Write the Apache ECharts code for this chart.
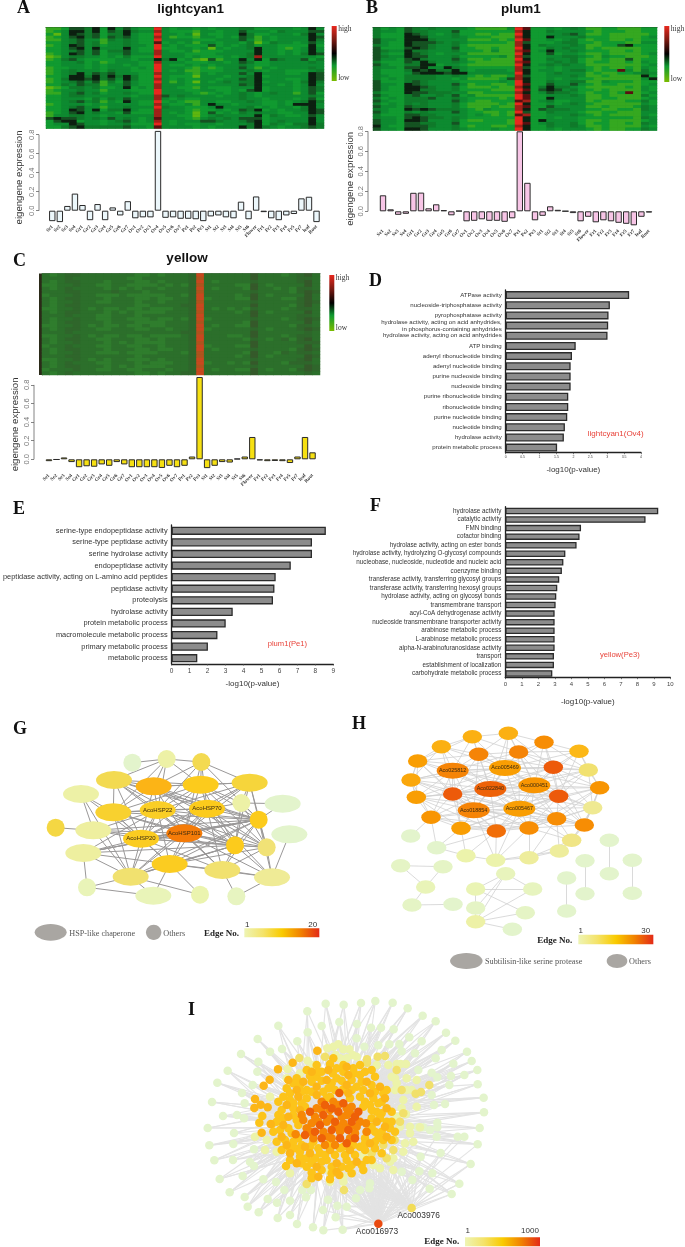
<!DOCTYPE html>
<html><head><meta charset="utf-8">
<script src="https://cdn.jsdelivr.net/npm/echarts@6/dist/echarts.min.js"></script>
<style>html,body{margin:0;padding:0;background:#fff}#c{width:685px;height:1247px}</style></head>
<body><div id="c"></div>
<script>
const categories=['Se1','Se2','Se3','Se4','Gr1','Gr2','Gr3','Gr4','Gr5','Gr6','Gr7','Ov1','Ov2','Ov3','Ov4','Ov5','Ov6','Ov7','Pe1','Pe2','Pe3','St1','St2','St3','St4','St5','St6','Flower','Fr1','Fr2','Fr3','Fr4','Fr5','Fr7','leaf','Root'];
const eigenA=[-.11,-.12,.05,.18,.06,-.10,.07,-.10,.035,-.05,.10,-.08,-.07,-.07,.84,-.075,-.07,-.085,-.085,-.09,-.11,-.06,-.05,-.07,-.08,.095,-.09,.15,-.015,-.08,-.10,-.05,-.035,.13,.147,-.12];
const eigenB=[.16,.02,-.035,-.025,.185,.187,.03,.07,.012,-.04,.005,-.10,-.095,-.08,-.095,-.095,-.105,-.07,.80,.285,-.09,-.045,.05,.015,.002,-.018,-.10,-.055,-.11,-.09,-.10,-.115,-.125,-.14,-.055,-.012];
const eigenC=[-.02,-.004,.02,-.03,-.085,-.075,-.08,-.055,-.07,-.03,-.055,-.085,-.085,-.085,-.085,-.093,-.07,-.085,-.07,.03,.885,-.095,-.07,-.03,-.035,.007,.03,.24,-.012,-.02,-.018,-.02,-.04,.03,.24,.075];

const heatA=[
"112554 626353 229323 323233 344223 332363","123664 625464 338322 213323 353332 433355","203654 524463 229332 303223 364223 332463",
"123564 525453 228312 213323 254132 333365","113453 314343 229333 322233 353132 333364","223453 413343 227232 313323 324024 332353",
"123653 423343 329323 222523 234233 222262","223563 633363 229223 323032 334633 212363","223453 524453 228322 312223 333633 232363",
"123653 523353 338333 222233 334633 232465","013443 323242 229333 232223 234833 333332","124532 222332 336462 310513 363625 433524",
"223342 312333 228333 222332 354223 333343","223332 323323 229322 323233 343223 333333","122332 323332 329333 212123 353132 333343",
"123433 324332 229323 112223 334323 322234","123463 545333 228333 213233 353633 322365","223664 646464 229322 203332 334623 333365",
"124665 645364 228323 223323 354633 322365","123453 514253 229313 203234 344623 332464","224354 413353 228333 223333 354633 232363",
"012443 422362 328332 213222 333623 332354","123343 313332 229333 223322 325623 332354","113453 423343 229333 321232 343234 331352",
"223443 333332 338534 333323 343233 333343","223332 424353 338323 223333 343323 332352","223453 413263 229232 113322 334322 323464",
"123332 323333 228322 313633 233322 326663","223453 313343 339433 222363 334232 332463","223653 624463 228333 212232 354623 233465",
"123563 433252 228323 202523 243433 223365","133443 323333 338332 202343 333624 322353","565543 435343 237333 213434 355523 333363",
"256623 323453 238323 335543 345623 433363","233653 323342 229323 223323 334624 324464","224564 444453 327333 323233 364643 233454"];
const heatB=[
"423254 343333 211113 972232 343112 211122","433254 433352 222222 862243 333212 221122","422265 432342 211211 962233 453112 111112",
"422266 533343 222111 862263 334222 111123","533266 643333 111212 972232 342122 112122","532265 554343 222221 852223 442212 221133",
"432265 543342 111111 862433 343112 256222","522256 543352 211211 962243 433121 111122","543364 433342 221311 872363 343222 112122",
"532265 432333 111111 962252 332112 111123","543365 533342 222231 852233 443213 221112","533256 433353 112111 962243 342112 115122",
"422254 643343 211111 872234 342122 112132","532244 662332 111111 962343 433111 111123","433255 633643 222222 852232 333212 112132",
"422246 564463 233332 862332 344212 273142","422235 666566 333333 962234 333121 122343","432244 443343 212112 852233 343112 111162",
"423244 443323 111125 862232 332211 111136","522245 433332 222232 962243 344113 222122","533265 433353 122112 972253 353212 211123",
"532266 543342 111211 862464 432111 112132","532266 443342 222111 972565 342212 111132","422265 544433 112222 862354 432122 127123",
"532245 334352 311111 972233 343112 111142","423244 453343 222212 972263 333112 211123","532244 433353 211222 782342 233121 112242",
"423243 433342 111121 962232 343211 111132","533254 433342 111211 872253 333112 111243","432265 654443 213222 862544 433221 122143",
"532243 433353 221121 952243 332112 211133","422255 443333 232121 782233 343212 111132","433256 544343 222222 962232 332222 222143",
"533266 533342 112221 962633 332112 111123","533255 443352 222221 972343 342122 112143","632255 543342 122112 862243 343112 111132",
"533266 533343 222322 962232 333212 112243"];
const heatC=[
"323443 333333 223233 349333 333533 323453","333433 333332 233333 348333 333533 333443","323443 332333 223233 349323 333433 333453",
"223343 322332 222323 248333 322532 333353","323433 332323 233233 349323 332533 232443","333443 333433 323333 348333 333433 332454",
"233343 322232 222233 249333 323532 333353","323443 332333 223223 349233 322533 322453","323343 322333 233233 348333 333433 333454",
"323443 333333 223333 449333 333533 332453","223343 232232 232223 349323 232433 323443","323443 332323 222233 348333 323532 333353",
"333433 322333 233333 349333 333533 333443","323343 322332 223223 249233 333433 323454","323443 332333 222233 348333 332533 333353",
"223343 232232 232233 349323 322533 332443","323443 322333 223323 349233 333432 333454","333433 333333 333333 448333 333533 333343",
"223343 232232 232222 349333 223533 323443","323443 322333 223233 349333 332432 342453","323343 332323 222233 348333 333533 333444",
"233433 322332 233233 349233 322533 333353","323443 332333 223223 349323 333433 332454","323343 322232 222333 248333 332533 243443",
"333443 333333 233333 348333 323532 333354","223343 232332 223233 349333 333433 333453","323433 322333 232223 349233 232533 324443",
"323443 332323 222233 348333 333433 333354","233343 322332 233323 349323 322532 332454","323433 333333 223233 449333 333533 333343"];

const goD=['ATPase activity','nucleoside-triphosphatase activity','pyrophosphatase activity','hydrolase activity, acting on acid anhydrides,\nin phosphorus-containing anhydrides','hydrolase activity, acting on acid anhydrides','ATP binding','adenyl ribonucleotide binding','adenyl nucleotide binding','purine nucleoside binding','nucleoside binding','purine ribonucleotide binding','ribonucleotide binding','purine nucleotide binding','nucleotide binding','hydrolase activity','protein metabolic process'];
const valD=[3.65,3.08,3.04,3.03,3.01,2.07,1.96,1.92,1.92,1.92,1.85,1.85,1.82,1.75,1.72,1.52];
const goE=['serine-type endopeptidase activity','serine-type peptidase activity','serine hydrolase activity','endopeptidase activity','peptidase activity, acting on L-amino acid peptides','peptidase activity','proteolysis','hydrolase activity','protein metabolic process','macromolecule metabolic process','primary metabolic process','metabolic process'];
const valE=[8.58,7.81,7.81,6.63,5.79,5.72,5.64,3.4,3.01,2.55,2.02,1.43];
const goF=['hydrolase activity','catalytic activity','FMN binding','cofactor binding','hydrolase activity, acting on ester bonds','hydrolase activity, hydrolyzing O-glycosyl compounds','nucleobase, nucleoside, nucleotide and nucleic acid','coenzyme binding','transferase activity, transferring glycosyl groups','transferase activity, transferring hexosyl groups','hydrolase activity, acting on glycosyl bonds','transmembrane transport','acyl-CoA dehydrogenase activity','nucleoside transmembrane transporter activity','arabinose metabolic process','L-arabinose metabolic process','alpha-N-arabinofuranosidase activity','transport','establishment of localization','carbohydrate metabolic process'];
const valF=[9.27,8.5,4.59,4.5,4.32,3.64,3.52,3.43,3.27,3.15,3.09,3.05,2.99,2.99,2.99,2.99,2.99,2.95,2.95,2.85];

// networks: [x, y, edge number, kind, name]
const netG=[[397,218,1,0],[500,207,3,0],[604,216,6.5,0],[342,270,6.5,1],[461,289,10.5,1],[602,284,8.6,1],[749,278,7.3,1],[243,312,3,1],[724,339,3,0],[848,341,1,1],[340,367,7.8,1],[473,360,8.2,1,'AcoHSP22'],[621,356,8.6,1,'AcoHSP70'],[776,389,8.6,0],[167,413,7,0],[280,421,3.4,1],[423,446,8.4,1,'AcoHSP20'],[553,430,14.7,1,'AcoHSP101'],[868,433,1,1],[705,466,8.6,0],[800,472,5.4,0],[250,489,3.4,1],[509,522,8.4,1],[667,540,5.6,1],[392,560,5.6,1],[816,562,4,1],[261,592,2,0],[460,617,2,1],[600,614,2.4,0],[709,619,1.6,0]];
const edgesG=[[0,1],[1,2],[1,3],[1,4],[1,5],[2,4],[2,5],[2,6],[2,11],[2,12],[3,4],[3,10],[3,11],[3,12],[3,5],[3,16],[3,17],[4,5],[4,11],[4,12],[4,17],[4,6],[4,10],[4,16],[5,6],[5,11],[5,12],[5,17],[5,13],[5,8],[5,19],[6,12],[6,8],[6,13],[6,11],[6,17],[7,10],[7,15],[7,24],[7,16],[8,9],[8,12],[8,13],[10,11],[10,16],[10,17],[10,24],[10,12],[11,12],[11,16],[11,17],[11,13],[11,22],[11,19],[11,20],[12,17],[12,16],[12,13],[12,19],[12,20],[12,22],[12,25],[13,17],[13,16],[13,19],[13,20],[13,22],[14,15],[15,16],[15,24],[15,17],[15,11],[16,17],[16,22],[16,24],[16,19],[16,13],[17,22],[17,19],[17,20],[17,23],[17,25],[17,24],[17,13],[18,25],[19,20],[19,22],[19,23],[19,25],[19,24],[20,25],[20,22],[21,26],[21,24],[21,16],[21,17],[21,13],[21,19],[22,23],[22,24],[22,28],[22,25],[23,25],[23,29],[23,17],[24,26],[24,27],[24,28],[25,29],[26,27],
[1,11],[1,10],[2,17],[2,13],[3,13],[3,19],[4,13],[4,19],[4,20],[5,16],[5,10],[5,20],[6,19],[6,20],[6,16],[9,13],[10,19],[10,13],[10,22],[11,23],[12,23],[13,23],[13,25],[15,19],[15,13],[16,23],[16,20],[17,21],[20,23],[24,19],[24,13],[21,22],[21,11],[8,19],[8,20],[12,24],[11,24],[27,22]];
const netH=[[382,170,16,0],[490,160,16,0],[597,187,20,0],[289,200,16,0],[401,223,21,0],[521,216,21,0],[702,214,15,0],[218,243,18,0],[480,264,18,1,'Aco005469'],[625,262,25,0],[730,270,8,0],[323,272,21,1,'Aco025812'],[198,300,17,0],[568,316,19,1,'Aco000451'],[436,327,24,1,'Aco022840'],[764,323,19,0],[323,342,25,0],[641,349,25,0],[214,352,18,0],[743,383,6,0],[523,386,18,1,'Aco005467'],[386,391,21,1,'Aco018854'],[258,412,19,0],[635,416,20,0],[348,445,18,0],[552,444,20,0],[718,435,20,0],[454,453,23,0],[680,481,7,0],
[197,468,1,0],[793,481,1,0],[275,503,1,0],[363,527,3.5,0],[452,541,3.5,0],[552,533,5,0],[643,513,5,0],[720,542,1,0],[862,541,1,0],[167,557,1.5,0],[294,560,1.5,0],[793,581,1,0],[482,581,2.2,0],[665,594,1,0],[242,621,2.5,0],[392,627,2.8,0],[563,627,2,0],[720,641,1,0],[862,640,1,0],[201,675,1.5,0],[324,673,1,0],[392,684,1.5,0],[541,698,1.5,0],[665,693,1,0],[392,725,4,0],[502,748,1,0]];
const edgesH=[[0,1],[1,2],[0,3],[2,6],[3,7],[7,12],[12,18],[18,22],[22,24],[24,27],[27,25],[25,23],[23,26],[26,15],[15,19],[6,10],[10,15],[0,4],[0,8],[1,5],[1,8],[2,5],[2,9],[3,4],[3,11],[4,5],[4,8],[4,11],[4,14],[5,8],[5,9],[5,13],[6,9],[6,13],[7,11],[7,14],[7,16],[8,9],[8,11],[8,13],[8,14],[8,16],[8,17],[8,20],[8,21],[9,10],[9,13],[9,14],[9,17],[9,15],[10,13],[10,17],[11,14],[11,16],[11,21],[11,13],[12,11],[12,14],[12,16],[12,21],[13,14],[13,15],[13,17],[13,20],[13,21],[13,16],[14,16],[14,17],[14,20],[14,21],[14,22],[14,24],[14,25],[14,27],[15,17],[15,20],[15,23],[16,18],[16,21],[16,22],[16,24],[16,20],[17,19],[17,20],[17,23],[17,26],[17,25],[18,21],[18,14],[19,23],[19,26],[19,20],[20,21],[20,23],[20,25],[20,27],[20,24],[21,22],[21,24],[21,25],[21,27],[21,23],[22,27],[23,28],[25,28],[26,28],[27,33],[27,32],[25,34],[25,33],[24,32],[26,35],[28,35],[23,34],[22,29],[27,31],[31,32],[32,33],[33,34],[34,35],[33,35],[20,33],[21,33],[36,46],[30,40],[37,47],[42,52],[38,43],[39,43],[38,39],[43,48],[48,49],[41,44],[41,45],[41,53],[44,45],[44,50],[44,51],[45,53],[50,53],[53,51],[53,54],[41,50],
[0,5],[0,7],[0,11],[0,14],[1,4],[1,9],[1,13],[1,14],[2,8],[2,10],[2,13],[2,17],[3,8],[3,12],[3,14],[3,16],[4,7],[4,9],[4,13],[4,16],[4,21],[5,6],[5,10],[5,11],[5,14],[5,17],[5,20],[6,8],[6,15],[6,17],[7,8],[7,12],[7,18],[7,21],[8,10],[8,12],[8,15],[8,18],[8,23],[9,11],[9,16],[9,19],[9,20],[9,26],[10,14],[10,19],[10,20],[11,12],[11,17],[11,18],[11,20],[11,22],[11,24],[12,18],[12,20],[12,22],[13,19],[13,23],[13,25],[13,26],[13,27],[14,15],[14,18],[14,19],[14,23],[14,26],[15,25],[15,26],[16,17],[16,23],[16,25],[16,27],[17,21],[17,27],[17,24],[18,20],[18,24],[18,27],[19,25],[20,22],[20,26],[20,28],[21,26],[22,25],[23,24],[23,27],[24,25],[25,26],[28,19],[34,28],[24,31],[22,31],[23,35]];

const iPale=[[587,41],[641,44],[693,39],[736,33],[788,38],[833,55],[878,77],[917,94],[948,128],[976,152],[1011,185],[1025,213],[1042,240],[1043,283],[1061,323],[1062,367],[1049,414],[1043,463],[1022,522],[988,581],[965,612],[899,596],[847,570],[532,64],[445,107],[383,147],[333,192],[293,242],[262,278],[246,336],[233,414],[238,466],[253,511],[269,567],[299,607],[344,621],[353,650],[386,667],[443,684],[480,675],[501,702],[549,712],[580,721],[638,719],[617,682],[622,647],[650,650],[579,660],[594,629],[528,622],[480,632],[441,638],[413,627],[463,600],[517,600],[543,600],[400,568],[338,558],[309,510],[360,516],[372,478],[310,462],[312,429],[342,385],[321,375],[279,378],[344,340],[336,309],[368,285],[420,185],[456,177],[502,154],[533,127],[575,108],[628,96],[681,102],[723,113],[753,113],[791,118],[838,142],[875,154],[935,180],[917,205],[970,221],[963,258],[1003,255],[958,285],[945,342],[912,345],[905,315],[922,262],[905,248],[865,240],[855,190],[815,184],[808,162],[778,163],[745,166],[703,170],[680,145],[1003,440],[983,440],[932,489],[907,550],[868,544],[872,500],[922,412],[922,398],[920,440],[900,420],[880,412],[865,412],[815,545],[720,580],[718,595],[690,600],[678,625],[438,576],[372,528],[385,215],[382,245]];
const iPaleYellow=[[625,163],[610,170],[640,178],[658,178],[592,175],[668,195],[630,205],[650,205],[533,212],[547,225],[617,195],[680,200],[740,225],[775,225],[800,222],[812,222],[828,222],[795,265],[800,280],[830,265],[860,270],[830,300],[820,330],[860,350],[828,372],[800,380],[840,410],[870,412],[840,430],[825,460],[850,455],[820,485],[790,505],[780,515],[790,540],[750,535],[730,525],[700,495],[640,560],[600,545],[530,530],[480,550],[440,485],[410,450],[405,480],[375,440],[395,378],[420,320],[470,265],[473,237],[510,250],[640,575],[600,575],[845,300],[815,355],[810,410],[795,300],[785,260]];
const iYellow=[[508,204],[585,200],[711,208],[711,218],[743,200],[765,198],[898,285],[857,311],[873,306],[794,450],[790,480],[642,600],[530,582],[800,240],[820,370],[760,465],[725,490],[815,300],[810,395],[770,505]];
const iGold=[[610,205],[530,240],[575,245],[620,235],[690,225],[690,255],[620,265],[560,260],[500,265],[470,295],[530,300],[595,295],[680,290],[735,260],[770,300],[690,320],[600,320],[530,325],[460,320],[490,355],[445,375],[500,390],[425,403],[430,425],[485,430],[495,475],[550,455],[510,500],[570,490],[630,475],[690,470],[745,445],[795,425],[735,425],[770,395],[740,365],[745,340],[720,345],[530,530],[590,510],[650,510],[710,510],[655,535],[545,548],[600,568],[468,528],[397,378],[388,398],
[560,225],[600,222],[640,225],[670,235],[540,258],[565,245],[608,250],[640,245],[672,250],[705,245],[725,240],[490,280],[510,285],[545,275],[575,272],[605,280],[635,272],[665,270],[695,275],[725,285],[480,310],[515,305],[545,305],[580,305],[615,300],[640,298],[665,300],[700,300],[735,305],[760,310],[445,335],[480,330],[515,340],[590,325],[660,325],[705,335],[730,325],[755,335],[455,360],[490,340],[525,350],[700,350],[725,360],[755,370],[785,365],[440,395],[460,385],[490,375],[505,405],[725,385],[750,385],[785,395],[450,420],[475,415],[505,445],[705,445],[725,410],[755,425],[780,415],[440,455],[465,450],[490,455],[515,465],[540,470],[565,475],[595,465],[640,470],[670,465],[705,460],[735,455],[760,450],[785,450],[455,480],[480,475],[510,485],[530,505],[555,505],[585,495],[615,495],[645,495],[675,495],[705,480],[735,475],[755,490],[480,510],[515,520],[545,518],[575,515],[605,530],[635,530],[665,525],[695,525],[725,510],[575,540],[605,550],[665,550],[700,540],[545,565]];
const iAmber=[[562,182],[488,218],[444,238],[419,269],[401,287],[375,327],[373,354],[392,344],[413,352],[545,245],[595,240],[650,230],[655,255],[590,270],[520,275],[475,270],[500,300],[560,290],[650,285],[710,275],[750,290],[720,310],[655,310],[560,315],[505,320],[470,345],[510,360],[475,380],[460,405],[395,428],[455,440],[470,465],[525,470],[480,490],[540,490],[600,480],[660,480],[720,460],[770,440],[765,410],[710,425],[740,395],[770,355],[765,325],[500,520],[560,530],[620,520],[680,515],[620,545],[565,560],[628,555],[422,402]];
const iCore1=[[560,355],[610,335],[665,350],[555,380],[600,360],[650,375],[545,400],[590,395],[640,400],[690,395],[530,415],[580,425],[630,425],[675,430],[550,445],[605,445],[660,445],[615,465],[520,390],[575,335],[650,355],[708,400],[497,433],[515,375],[585,465],[710,425],[600,385],[635,380],[660,370],[565,395],[615,410],[645,415],[540,425],[595,440],[625,410],[680,410],[660,410],[575,360],[625,345]];
const iCore2=[[628,309],[585,345],[640,340],[685,365],[580,375],[625,365],[675,380],[570,405],[615,395],[665,395],[555,425],[605,420],[655,420],[525,435],[575,445],[630,445],[675,445],[650,460],[540,365],[605,355]];
const iNamed=[[745,701,900,'Aco016973'],[845,654,280,'Aco003976']];
const tierValues={pale:1,paleYellow:90,yellow:250,gold:430,amber:490,core1:680,core2:800};

// ---- helpers
const STOPS=[[0,'#e3f4cc'],[.08,'#ecf4ad'],[.2,'#f0e68a'],[.3,'#f3d94a'],[.4,'#fccb1c'],[.5,'#fcb416'],[.6,'#f99a00'],[.7,'#f58208'],[.8,'#ee6008'],[.9,'#ea4a10'],[1,'#e32a17']];
function hex(c){return [1,3,5].map(i=>parseInt(c.substr(i,2),16));}
function scaleColor(t){t=Math.max(0,Math.min(1,t));for(let i=1;i<STOPS.length;i++){if(t<=STOPS[i][0]){const a=STOPS[i-1],b=STOPS[i],f=(t-a[0])/(b[0]-a[0]),A=hex(a[1]),B=hex(b[1]);return 'rgb('+A.map((v,k)=>Math.round(v+(B[k]-v)*f)).join(',')+')';}}return STOPS[10][1];}
const grid=[],xAxis=[],yAxis=[],series=[],graphic=[],title=[];
const SANS='"Liberation Sans",Arial,sans-serif',SERIF='"Liberation Serif",serif';
function txt(x,y,s,size,color,o){o=o||{};graphic.push({type:'text',x,y,silent:true,z:50,style:{text:s,fill:color||'#222',font:(o.bold?'bold ':'')+size+'px '+(o.family||SANS),textAlign:o.align||'left',textVerticalAlign:'middle'}});}
function heat(rows,l,t,w,h,tickColor){
  const gi=grid.length;grid.push({left:l,top:t,width:w,height:h,show:true,backgroundColor:'#2a7a2a',borderWidth:0});
  const tidy=rows.map(r=>r.replace(/ /g,''));
  xAxis.push({type:'category',gridIndex:gi,position:'top',data:categories,axisLabel:{show:false},axisLine:{lineStyle:{color:tickColor,width:1}},axisTick:{alignWithLabel:true,length:2.5,lineStyle:{color:tickColor,width:.8}}});
  yAxis.push({type:'category',gridIndex:gi,inverse:true,data:tidy.map((_,i)=>'g'+i),axisLabel:{show:false},axisLine:{lineStyle:{color:tickColor,width:.8}},axisTick:{alignWithLabel:true,length:2.5,lineStyle:{color:tickColor,width:.7}}});
  const data=[];tidy.forEach((r,y)=>{for(let x=0;x<r.length;x++)data.push([x,y,+r[x]]);});
  series.push({type:'heatmap',xAxisIndex:gi,yAxisIndex:gi,data,silent:true,progressive:0,animation:false,emphasis:{disabled:true}});
  return series.length-1;
}
function eig(vals,l,w,y0,unit,maxV,color,axisX,nameGap,labelMargin){
  const minV=-.15,top=y0-maxV*unit,h=(maxV-minV)*unit,gi=grid.length;
  grid.push({left:l,top,width:w,height:h});
  xAxis.push({type:'category',gridIndex:gi,data:categories,axisLine:{show:false},axisTick:{show:false},axisLabel:{interval:0,rotate:45,fontSize:5,fontWeight:'bold',fontFamily:SERIF,color:'#333',margin:labelMargin}});
  const ticks=[0,.2,.4,.6,.8];
  yAxis.push({type:'value',gridIndex:gi,min:minV,max:maxV,offset:l-axisX,splitLine:{show:false},axisLine:{show:false},
    axisTick:{show:true,length:3,customValues:ticks,lineStyle:{color:'#666',width:.8}},
    axisLabel:{customValues:ticks,rotate:90,fontSize:7.5,color:'#777',fontFamily:SANS,margin:3,formatter:v=>(+v).toFixed(1)},
    name:'eigengene expression',nameLocation:'middle',nameRotate:90,nameGap,nameTextStyle:{fontSize:9.6,color:'#333',fontFamily:SANS}});
  series.push({type:'bar',xAxisIndex:gi,yAxisIndex:gi,data:vals,barWidth:6.4,silent:true,itemStyle:{color,borderColor:'#2a2a2a',borderWidth:1}});
  graphic.push({type:'line',silent:true,shape:{x1:axisX,y1:y0-.8*unit,x2:axisX,y2:y0},style:{stroke:'#666',lineWidth:.8}});
}
function go(cats,vals,l,t,w,h,maxV,interval,barW,labelSize,tickSize,tickMargin,nameGap,nameSize){
  const gi=grid.length;grid.push({left:l,top:t,width:w,height:h});
  xAxis.push({type:'value',gridIndex:gi,min:0,max:maxV,interval,splitLine:{show:false},axisLine:{show:true,lineStyle:{color:'#222',width:1.3}},axisTick:{show:true,length:1.5,lineStyle:{color:'#444',width:.7}},
    axisLabel:{fontSize:tickSize,color:'#444',fontFamily:SANS,margin:tickMargin},name:'-log10(p-value)',nameLocation:'middle',nameGap,nameTextStyle:{fontSize:nameSize,color:'#333',fontFamily:SANS}});
  yAxis.push({type:'category',gridIndex:gi,inverse:true,data:cats,axisLine:{show:true,lineStyle:{color:'#222',width:1.3}},axisTick:{show:false},
    axisLabel:{interval:0,fontSize:labelSize,color:'#333',fontFamily:SANS,margin:4,lineHeight:labelSize+1}});
  series.push({type:'bar',xAxisIndex:gi,yAxisIndex:gi,data:vals,barWidth:barW,silent:true,itemStyle:{color:'#8c8c8c',borderColor:'#2b2b2b',borderWidth:1.3}});
}
function net(nodes,edges,l,t,wPx,hPx,maxEdge,sizes,edgeColor,edgeWidth,labelSize){
  const gi=grid.length;grid.push({left:l,top:t,width:wPx,height:hPx});
  xAxis.push({type:'value',gridIndex:gi,show:false,min:0,max:wPx*3,splitLine:{show:false}});
  yAxis.push({type:'value',gridIndex:gi,show:false,inverse:true,min:0,max:hPx*3,splitLine:{show:false}});
  const data=nodes.map((n,i)=>{
    const d={name:n[4]||('n'+i),value:[n[0],n[1]],symbolSize:sizes[n[3]],itemStyle:{color:scaleColor((n[2]-1)/(maxEdge-1))}};
    if(n[4])d.label={show:true,formatter:n[4]};
    return d;});
  series.push({type:'graph',coordinateSystem:'cartesian2d',xAxisIndex:gi,yAxisIndex:gi,layout:'none',silent:true,animation:false,data,
    links:edges.map(e=>({source:e[0],target:e[1]})),symbol:'circle',lineStyle:{color:edgeColor,width:edgeWidth,opacity:1,curveness:0},
    label:{show:false,position:'inside',fontSize:labelSize,color:'#3a2a10',fontFamily:SANS},emphasis:{disabled:true}});
}
function gradientBar(x,y,w,h){graphic.push({type:'rect',silent:true,shape:{x,y,width:w,height:h},style:{fill:{type:'linear',x:0,y:0,x2:1,y2:0,colorStops:[{offset:0,color:'#eef4b4'},{offset:.25,color:'#f4e36a'},{offset:.5,color:'#f9cb00'},{offset:.75,color:'#f18200'},{offset:1,color:'#e32a17'}]}}});}
function heatLegend(x,y,w,h){graphic.push({type:'rect',silent:true,shape:{x,y,width:w,height:h},style:{fill:{type:'linear',x:0,y:0,x2:0,y2:1,colorStops:[{offset:0,color:'#e8281e'},{offset:.25,color:'#7a1a12'},{offset:.5,color:'#000'},{offset:.72,color:'#0f9a30'},{offset:1,color:'#7abb00'}]}}});
  txt(x+w+1.5,y+3,'high',7.5,'#333',{family:SERIF});txt(x+w+1.5,y+h-3,'low',7.5,'#333',{family:SERIF});}
function ell(x,y,rx,ry){graphic.push({type:'ellipse',silent:true,shape:{cx:x,cy:y,rx,ry},style:{fill:'#a9a6a2'}});}

// ---- panels A-C
const sA=heat(heatA,46,27.5,278,101,'#222');
const sB=heat(heatB,373,27.5,284,103,'#222');
const sC=heat(heatC,42,273.5,278,101.5,'#777');
graphic.push({type:'rect',silent:true,shape:{x:39,y:273.5,width:3,height:101.5},style:{fill:'#2b2a18'}});
eig(eigenA,48.5,271.8,210.7,95,.85,'#ecf7fb',39,15,1);
eig(eigenB,379.2,273.6,211.3,100,.8,'#f7c5e6',368,13,4);
eig(eigenC,45.2,271.1,459.3,93,.9,'#f6e012',34,14,1.5);
heatLegend(331.7,26,5,55);heatLegend(664.3,26,5,56);heatLegend(329.3,275,5,56);
[['lightcyan1',190.7,9.5],['plum1',521,9.5],['yellow',187,258]].forEach(a=>title.push({text:a[0],left:a[1],top:a[2]-7,textAlign:'center',textStyle:{fontSize:13.5,fontWeight:'bold',color:'#111',fontFamily:SANS},padding:0}));

// ---- panels D-F
go(goD,valD,505.7,290,135.3,162.7,4,.5,8,6.1,3.5,2,13,8);
go(goE,valE,170,525,163.4,139,9,1,8.2,7.4,6.5,4,15.5,8);
go(goF,valF,505.3,506.7,165,171,10,1,6.5,6.3,6,4,20,8);
txt(587.7,434,'lightcyan1(Ov4)',8,'#e8433a');
txt(267.7,644,'plum1(Pe1)',7.6,'#e8433a');
txt(600,655,'yellow(Pe3)',7.6,'#e8433a');

// ---- networks
net(netG,edgesG,0,690,345,280,20,[[18,18],[36,18]],'#9a9898',1,6);
net(netH,edgesH,345,680,340,310,30,[[19.5,13.5],[32,16]],'#d0d0d0',.8,5.4);
const iNodes=[],iEdges=[];
[[iPale,'pale'],[iPaleYellow,'paleYellow'],[iYellow,'yellow'],[iGold,'gold'],[iAmber,'amber'],[iCore1,'core1'],[iCore2,'core2']].forEach(p=>p[0].forEach(q=>iNodes.push([q[0],q[1],tierValues[p[1]],0])));
const firstCore=iNodes.length-iCore1.length-iCore2.length,coreCount=iCore1.length+iCore2.length;
iNamed.forEach(n=>iNodes.push([n[0],n[1],n[2],0]));
const nA=iNodes.length-2,nB=iNodes.length-1;
for(let i=0;i<firstCore;i++){
  iEdges.push([i,firstCore+(i*3)%coreCount]);
  iEdges.push([i,firstCore+(i*11+5)%coreCount]);
  iEdges.push([i,firstCore+(i*7+2)%coreCount]);
  iEdges.push([i,firstCore+(i*5+9)%coreCount]);
  if(iNodes[i][0]>560&&iNodes[i][1]>430)iEdges.push([i,nA]);
  if(iNodes[i][0]>600&&iNodes[i][1]>480)iEdges.push([i,nB]);
}
net(iNodes,iEdges,130,990,440,257,1000,[[8.5,8.5]],'#e3e3e3',1.1,6);
txt(130+866/3,990+677/3,iNamed[1][3],8.4,'#333',{align:'center'});
txt(130+741/3,990+724/3,iNamed[0][3],8.4,'#333',{align:'center'});

// ---- network legends
ell(152/3,690+727/3,16,8.3);txt(208/3,690+731/3,'HSP-like chaperone',8.2,'#555',{family:SERIF});
ell(461/3,690+727/3,7.7,7.7);txt(490/3,690+731/3,'Others',8.2,'#555',{family:SERIF});
txt(612/3,690+731/3,'Edge No.',9,'#222',{family:SERIF,bold:true});
gradientBar(733/3,690+715/3,75,9);txt(742/3,690+703/3,'1',8,'#333',{align:'center'});txt(938/3,690+703/3,'20',8,'#333',{align:'center'});
txt(345+577/3,680+782/3,'Edge No.',9,'#222',{family:SERIF,bold:true});
gradientBar(345+700/3,680+764/3,75,9.5);txt(345+707/3,680+752/3,'1',8,'#333',{align:'center'});txt(345+902/3,680+752/3,'30',8,'#333',{align:'center'});
ell(345+364/3,680+843/3,16.3,8);txt(345+420/3,680+846/3,'Subtilisin-like serine protease',8.2,'#555',{family:SERIF});
ell(345+816/3,680+843/3,10.3,7);txt(345+852/3,680+846/3,'Others',8.2,'#555',{family:SERIF});
txt(130+883/3,990+755/3,'Edge No.',9,'#222',{family:SERIF,bold:true});
gradientBar(130+1005/3,990+742/3,75,8.8);txt(130+1013/3,990+722/3,'1',8,'#333',{align:'center'});txt(130+1200/3,990+722/3,'1000',8,'#333',{align:'center'});

// ---- panel letters
[['A',17,8],['B',366,8],['C',13,261],['D',369,281],['E',13,509],['F',370,506],['G',13,729],['H',352,724],['I',188,1010]].forEach(a=>txt(a[1],a[2],a[0],18,'#111',{family:SERIF,bold:true}));

const PAL=['#5fb60f','#35a820','#109a30','#0d8a30','#0f7a2a','#155222','#0c1f10','#5a1010','#a02018','#e8281e'];
const PALC=['#3f9135','#38882f','#2f7d2d','#2c6f2b','#2f662b','#35592a','#3e4a24','#5c4a1f','#b0531c','#c8481e'];
const chart=echarts.init(document.getElementById('c'),null,{renderer:'canvas'});
chart.setOption({animation:false,backgroundColor:'#fff',title,grid,xAxis,yAxis,series,graphic,
  visualMap:[{show:false,type:'continuous',min:0,max:9,seriesIndex:[sA,sB],dimension:2,inRange:{color:PAL}},{show:false,type:'continuous',min:0,max:9,seriesIndex:sC,dimension:2,inRange:{color:PALC}}]});
</script></body></html>
